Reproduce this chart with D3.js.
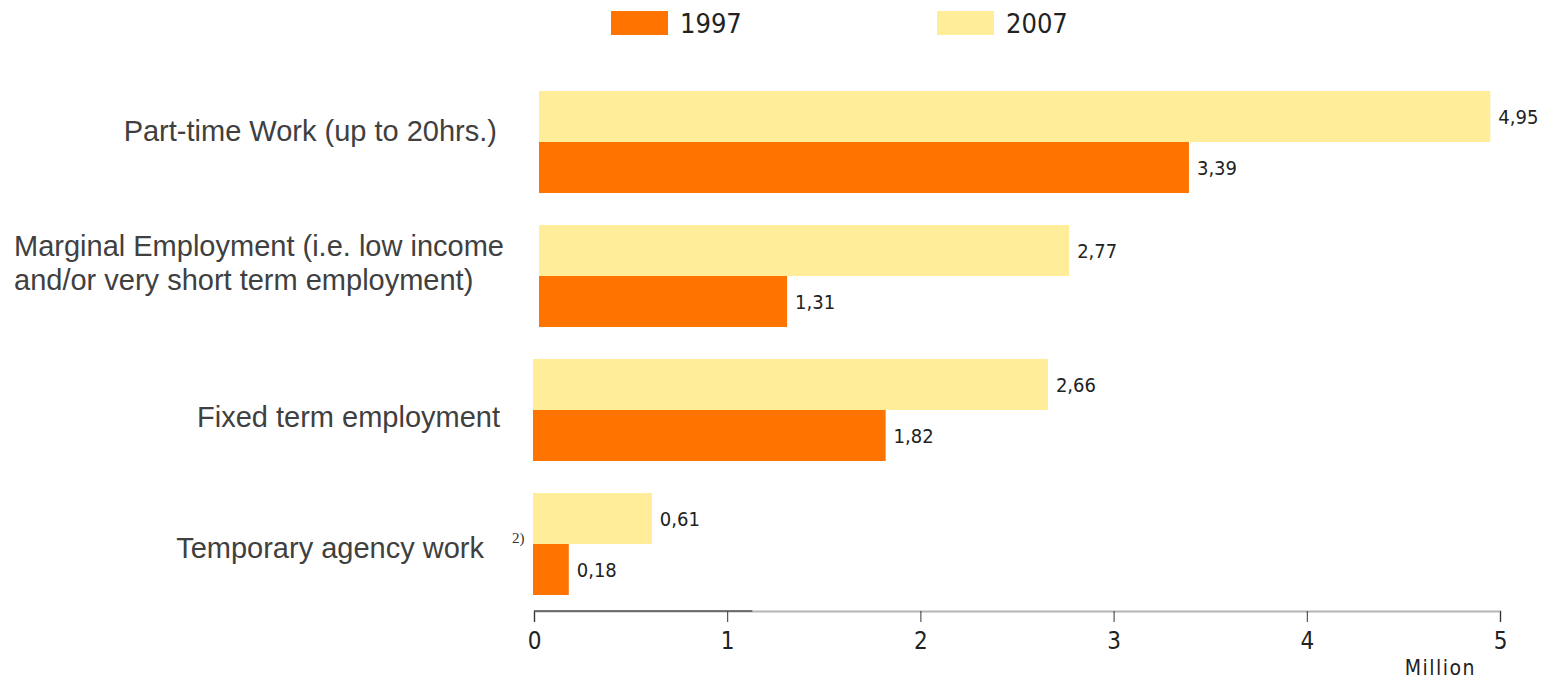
<!DOCTYPE html>
<html>
<head>
<meta charset="utf-8">
<script src="https://cdn.jsdelivr.net/npm/d3@7"></script>
<style>
  html, body { margin: 0; padding: 0; background: #fff; }
  svg { display: block; }
</style>
</head>
<body>
<svg id="chart" width="1545" height="681"></svg>
<script>
// ---- data ----
const categories = [
  "Part-time Work (up to 20hrs.)",
  "Marginal Employment (i.e. low income and/or very short term employment)",
  "Fixed term employment",
  "Temporary agency work"
];
const series = ["2007", "1997"];
const values1997 = [3.39, 1.31, 1.82, 0.18];
const values2007 = [4.95, 2.77, 2.66, 0.61];
const valueLabels1997 = ["3,39", "1,31", "1,82", "0,18"];
const valueLabels2007 = ["4,95", "2,77", "2,66", "0,61"];
const xTicks = [0, 1, 2, 3, 4, 5];
const unitLabel = "Million";
const footnote = "2)";

// ---- layout ----
const svg = d3.select("#chart");
const colors = { "1997": "#FF7400", "2007": "#FFED99" };
const catFont = "'Liberation Sans', Arial, sans-serif";
const numFont = "'DejaVu Sans Condensed', 'DejaVu Sans', sans-serif";

const x = d3.scaleLinear().domain([0, 5]).range([534, 1500]);
const y = d3.scaleBand().domain(categories).range([75, 611])
  .paddingInner(32 / 134).paddingOuter(16 / 134);
const ys = d3.scaleBand().domain(series).range([0, y.bandwidth()]);

const rows = categories.map((c, i) => ({
  cat: c, i,
  bars: [
    { s: "2007", v: values2007[i], label: valueLabels2007[i] },
    { s: "1997", v: values1997[i], label: valueLabels1997[i] }
  ]
}));

// bars (top two groups start slightly right of the axis origin in the original)
const startShift = i => (i < 2 ? 5 : -1);

const g = svg.append("g").selectAll("g.row").data(rows).join("g")
  .attr("class", "row")
  .attr("transform", d => `translate(0,${y(d.cat)})`);

g.selectAll("rect").data(d => d.bars.map(b => ({ ...b, i: d.i }))).join("rect")
  .attr("x", d => x(0) + startShift(d.i))
  .attr("y", d => ys(d.s))
  .attr("width", d => x(d.v) - x(0) - startShift(d.i))
  .attr("height", ys.bandwidth())
  .attr("fill", d => colors[d.s]);

g.selectAll("text.val").data(d => d.bars).join("text")
  .attr("class", "val")
  .attr("x", d => x(d.v) + 8)
  .attr("y", d => ys(d.s) + ys.bandwidth() / 2)
  .attr("dy", "0.36em")
  .attr("font-family", numFont)
  .attr("font-size", 20)
  .attr("fill", "#222")
  .text(d => d.label);

// category labels
const catG = svg.append("g")
  .attr("font-family", catFont)
  .attr("font-size", 29)
  .attr("fill", "#404040");

// Part-time
catG.append("text").attr("x", 497).attr("y", 141).attr("text-anchor", "end").text(categories[0]);
// Marginal (two lines, left aligned)
const m = catG.append("text").attr("x", 14).attr("y", 256);
m.append("tspan").attr("x", 14).text("Marginal Employment (i.e. low income");
m.append("tspan").attr("x", 14).attr("dy", 34).text("and/or very short term employment)");
// Fixed term
catG.append("text").attr("x", 500).attr("y", y(categories[2]) + y.bandwidth() / 2 + 17).attr("text-anchor", "end").text(categories[2]);
// Temporary
catG.append("text").attr("x", 484).attr("y", y(categories[3]) + y.bandwidth() / 2 + 14).attr("text-anchor", "end").text(categories[3]);

// footnote
svg.append("text")
  .attr("x", 512).attr("y", 543)
  .attr("font-family", "'Liberation Serif', 'Times New Roman', serif")
  .attr("font-size", 15)
  .attr("fill", "#333")
  .text(footnote);

// axis
const axis = svg.append("g")
  .attr("transform", "translate(0,611)")
  .call(d3.axisBottom(x).tickValues(xTicks).tickSize(11).tickPadding(10).tickFormat(d3.format("d")));
axis.select(".domain").attr("stroke", "#b5b5b5").attr("stroke-width", 2);
axis.append("line")
  .attr("x1", x(0)).attr("x2", x(1.13)).attr("y1", 0).attr("y2", 0)
  .attr("stroke", "#555").attr("stroke-width", 1.3);
axis.selectAll(".tick line").attr("stroke", "#333");
axis.selectAll(".tick text")
  .attr("font-family", numFont)
  .attr("font-size", 24)
  .attr("fill", "#222");

svg.append("text")
  .attr("x", x(5) - 24).attr("y", 675)
  .attr("text-anchor", "end")
  .attr("font-family", numFont)
  .attr("font-size", 21)
  .attr("letter-spacing", 1.5)
  .attr("fill", "#222")
  .text(unitLabel);

// legend
const legendItems = [
  { s: "1997", x: 611 },
  { s: "2007", x: 937 }
];
const lg = svg.append("g").selectAll("g").data(legendItems).join("g")
  .attr("transform", d => `translate(${d.x},11)`);
lg.append("rect").attr("width", 57).attr("height", 24).attr("fill", d => colors[d.s]);
lg.append("text")
  .attr("x", 69).attr("y", 22)
  .attr("font-family", numFont)
  .attr("font-size", 27)
  .attr("fill", "#222")
  .text(d => d.s);
</script>
</body>
</html>
